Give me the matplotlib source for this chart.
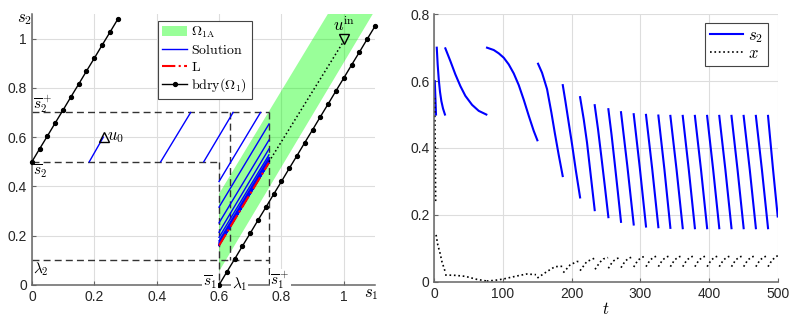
import numpy as np
import matplotlib
matplotlib.use("Agg")
import matplotlib.pyplot as plt
from matplotlib.ticker import FormatStrFormatter

plt.rcParams['mathtext.fontset'] = 'cm'
plt.rcParams['font.family'] = ['Liberation Sans', 'DejaVu Sans']

nan = np.nan

# ---------------- left panel: (s1, s2) plane ----------------
bdry_left_s1 = [0, 0.025, 0.05, 0.075, 0.1, 0.125, 0.15, 0.175, 0.2, 0.225, 0.25, 0.275]
bdry_left_s2 = [0.5, 0.553, 0.605, 0.658, 0.71, 0.763, 0.815, 0.868, 0.92, 0.973, 1.025, 1.078]
bdry_right_s1 = [0.6, 0.625, 0.65, 0.675, 0.7, 0.725, 0.75, 0.775, 0.8, 0.825, 0.85,
                 0.875, 0.9, 0.925, 0.95, 0.975, 1.0, 1.025, 1.05, 1.075, 1.1]
bdry_right_s2 = [0, 0.053, 0.105, 0.158, 0.21, 0.263, 0.315, 0.368, 0.42, 0.473, 0.525,
                 0.578, 0.63, 0.683, 0.735, 0.788, 0.84, 0.893, 0.945, 0.998, 1.05]

omega1a_s1 = [0.6, 0.6, 0.949, 1.093]
omega1a_s2 = [0.055, 0.37, 1.1, 1.1]

sol_s1 = [0.229, 0.184, nan, 0.509, 0.413, nan, 0.645, 0.551, nan, 0.733, 0.6, nan,
          0.76, 0.6, nan, 0.76, 0.6, nan, 0.76, 0.6, nan, 0.76, 0.6, nan, 0.76, 0.6, nan,
          0.76, 0.6, nan, 0.76, 0.6, nan, 0.76, 0.6, nan, 0.76, 0.6, nan, 0.76, 0.6]
sol_s2 = [0.6, 0.5, nan, 0.7, 0.5, nan, 0.7, 0.5, nan, 0.7, 0.42, nan,
          0.653, 0.316, nan, 0.588, 0.252, nan, 0.552, 0.214, nan, 0.528, 0.193, nan, 0.516, 0.179, nan,
          0.507, 0.171, nan, 0.501, 0.165, nan, 0.499, 0.163, nan, 0.497, 0.161, nan, 0.496, 0.16]

L_s1 = [0.6, 0.76]
L_s2 = [0.16, 0.496]

uin_s1 = [0.76, 1.0]
uin_s2 = [0.5, 0.99]
u0 = (0.23, 0.6)
uin = (1.0, 1.0)

s1_bar, lam1, s1_plus = 0.6, 0.635, 0.76
s2_bar, lam2, s2_plus = 0.5, 0.1, 0.7

# ---------------- right panel: time series ----------------
t_s2 = [0.6, 1.5, 2.4, nan,
        3.5, 4.8, 6.4, 8.2, 10.2, 12.6, 15.4, nan,
        16.0, 23.3, 30.6, 37.9, 45.1, 54.9, 64.6, 75.7, nan,
        76.7, 86.5, 93.8, 101, 108.3, 115.6, 122.9, 130.2, 137.5, 144.7, 150, nan,
        151, 156.8, 164.1, 170.4, 175.3, 181, 186.9, nan,
        187, 190.8, 195.6, 200.5, 206, 212.2, nan,
        212.2, 217.5, 222.3, 227.8, 233.5, nan,
        233.5, 238.4, 243.4, 248.4, 253.4, nan,
        253.4, 258, 262.6, 267.2, 271.8, nan,
        271.8, 281, 290.3, nan,
        290.3, 299.2, 308.2, nan,
        308.2, 317.2, 326.2, nan,
        326.2, 335, 343.7, nan,
        343.7, 352.7, 361.7, nan,
        361.7, 370.5, 379.4, nan,
        379.4, 388.3, 397.2, nan,
        397.2, 406, 414.9, nan,
        414.9, 423.8, 432.7, nan,
        432.7, 441.5, 450.4, nan,
        450.4, 459.3, 468.2, nan,
        468.2, 477, 485.9, nan,
        485.9, 493, 500]
s2 = [0.6, 0.55, 0.5, nan,
      0.7, 0.65, 0.605, 0.568, 0.54, 0.518, 0.5, nan,
      0.698, 0.66, 0.62, 0.585, 0.556, 0.529, 0.511, 0.5, nan,
      0.7, 0.693, 0.683, 0.67, 0.65, 0.623, 0.588, 0.544, 0.496, 0.451, 0.423, nan,
      0.652, 0.625, 0.576, 0.506, 0.446, 0.38, 0.316, nan,
      0.588, 0.54, 0.476, 0.411, 0.333, 0.252, nan,
      0.552, 0.486, 0.416, 0.317, 0.214, nan,
      0.528, 0.455, 0.37, 0.283, 0.193, nan,
      0.516, 0.44, 0.355, 0.268, 0.179, nan,
      0.507, 0.346, 0.171, nan,
      0.501, 0.34, 0.165, nan,
      0.499, 0.338, 0.163, nan,
      0.497, 0.336, 0.161, nan,
      0.496, 0.335, 0.16, nan,
      0.496, 0.335, 0.16, nan,
      0.496, 0.335, 0.16, nan,
      0.496, 0.335, 0.16, nan,
      0.496, 0.335, 0.16, nan,
      0.496, 0.335, 0.16, nan,
      0.496, 0.335, 0.16, nan,
      0.496, 0.335, 0.16, nan,
      0.496, 0.34, 0.195]

t_x = [0.5, 1.2, 1.9, nan,
       2.5, 5.0, 8.3, 11.0, 15.4, nan,
       15.6, 30, 45, 61.7, 76.3, nan,
       76.3, 88, 100.5, 120, 134.5, 148, nan,
       150, 163.7, 175.7, 186.5, nan,
       187.8, 197.6, 207.3, 212, nan,
       212.2, 221.9, 233, nan,
       234, 241, 246, 253, nan,
       253.4, 259.5, 265.5, 271.8, nan,
       271.8, 278, 284, 290.3, nan,
       290.3, 296.3, 302.3, 308.2, nan,
       308.2, 314.2, 320.2, 326.2, nan,
       326.2, 332.2, 338.2, 343.7, nan,
       343.7, 349.7, 355.7, 361.7, nan,
       361.7, 367.7, 373.7, 379.4, nan,
       379.4, 385.4, 391.4, 397.2, nan,
       397.2, 403.2, 409.2, 414.9, nan,
       414.9, 420.9, 426.9, 432.7, nan,
       432.7, 438.7, 444.7, 450.4, nan,
       450.4, 456.4, 462.4, 468.2, nan,
       468.2, 474.2, 480.2, 485.9, nan,
       485.9, 491.9, 497.9, 500]
x = [0.55, 0.40, 0.234, nan,
     0.14, 0.11, 0.085, 0.06, 0.032, nan,
     0.02, 0.019, 0.016, 0.007, 0.002, nan,
     0.002, 0.004, 0.008, 0.017, 0.023, 0.021, nan,
     0.011, 0.03, 0.045, 0.046, nan,
     0.027, 0.05, 0.06, 0.061, nan,
     0.033, 0.06, 0.07, nan,
     0.037, 0.058, 0.068, 0.072, nan,
     0.040, 0.060, 0.069, 0.073, nan,
     0.042, 0.062, 0.071, 0.075, nan,
     0.044, 0.064, 0.073, 0.077, nan,
     0.045, 0.065, 0.074, 0.078, nan,
     0.045, 0.065, 0.074, 0.078, nan,
     0.045, 0.065, 0.074, 0.078, nan,
     0.045, 0.065, 0.074, 0.078, nan,
     0.045, 0.065, 0.074, 0.078, nan,
     0.045, 0.065, 0.074, 0.078, nan,
     0.045, 0.065, 0.074, 0.078, nan,
     0.045, 0.065, 0.074, 0.078, nan,
     0.045, 0.065, 0.074, 0.078, nan,
     0.045, 0.065, 0.074, 0.078, nan,
     0.045, 0.065, 0.075, 0.078]


def style(ax):
    for sp in ['top', 'right']:
        ax.spines[sp].set_visible(False)
    for sp in ['left', 'bottom']:
        ax.spines[sp].set_color('#666666')
        ax.spines[sp].set_linewidth(1.1)
    ax.tick_params(direction='in', length=3, color='#666666', labelcolor='#262626', labelsize=10)
    ax.grid(True, color='#dddddd', lw=0.8)
    ax.set_axisbelow(True)
    ax.xaxis.set_major_formatter(FormatStrFormatter('%g'))
    ax.yaxis.set_major_formatter(FormatStrFormatter('%g'))


fig = plt.figure(figsize=(7.97, 3.24), dpi=100)
ax1 = fig.add_axes([0.040, 0.1204, 0.4305, 0.8366])
ax2 = fig.add_axes([0.545, 0.1306, 0.4308, 0.8254])

# ---- left
style(ax1)
ax1.set_xlim(0, 1.1)
ax1.set_ylim(0, 1.1)
ax1.set_xticks([0, 0.2, 0.4, 0.6, 0.8, 1])
ax1.set_yticks([0, 0.2, 0.4, 0.6, 0.8, 1])

h_fill = ax1.fill(omega1a_s1, omega1a_s2, color=(0, 1, 0), alpha=0.4, lw=0, zorder=1)[0]

dash = dict(color='#333333', lw=1, ls=(0, (5, 3)), zorder=2)
ax1.plot([0, s1_plus], [s2_plus, s2_plus], **dash)
ax1.plot([0, s1_bar], [s2_bar, s2_bar], **dash)
ax1.plot([0, s1_plus], [lam2, lam2], **dash)
ax1.plot([s1_bar, s1_bar], [s2_bar, 0], **dash)
ax1.plot([s1_plus, s1_plus], [s2_plus, 0], **dash)
ax1.plot([lam1, lam1], [s2_plus, lam2], **dash)

h_sol, = ax1.plot(sol_s1, sol_s2, color='blue', lw=1, zorder=3)
h_L, = ax1.plot(L_s1, L_s2, color='red', lw=1.5, ls='-.', zorder=4)
ax1.plot(uin_s1, uin_s2, color='black', lw=1.1, ls=':', zorder=3)
h_b, = ax1.plot(bdry_left_s1, bdry_left_s2, color='black', lw=1, marker='o', ms=2.8, clip_on=False, zorder=5)
ax1.plot(bdry_right_s1, bdry_right_s2, color='black', lw=1, marker='o', ms=2.8, clip_on=False, zorder=5)

ax1.plot(*u0, marker='^', ms=7, mfc='none', mec='black', mew=1, zorder=6)
ax1.plot(*uin, marker='v', ms=7, mfc='none', mec='black', mew=1, zorder=6)
ax1.text(u0[0] + 0.012, u0[1], r'$u_0$', fontsize=12, va='center', ha='left')
ax1.text(uin[0], uin[1] + 0.02, r'$u^{\mathrm{in}}$', fontsize=12, va='bottom', ha='center')

ax1.text(-0.022, 1.077, r'$s_2$', fontsize=12, ha='center', va='center', clip_on=False)
ax1.text(1.087, -0.037, r'$s_1$', fontsize=12, ha='center', va='center', clip_on=False)
ax1.text(0.002, 0.735, r'$\overline{s}_2^+$', fontsize=11, ha='left', va='center')
ax1.text(0.002, 0.463, r'$\overline{s}_2$', fontsize=11, ha='left', va='center')
ax1.text(0.004, 0.065, r'$\lambda_2$', fontsize=11, ha='left', va='center')
wb = dict(fc='white', ec='none', pad=0.6)
ax1.text(0.594, 0.012, r'$\overline{s}_1$', fontsize=11, ha='right', va='center', bbox=wb, zorder=7, clip_on=False)
ax1.text(0.640, 0.004, r'$\lambda_1$', fontsize=11, ha='left', va='center', bbox=wb, zorder=7, clip_on=False)
ax1.text(0.765, 0.02, r'$\overline{s}_1^+$', fontsize=11, ha='left', va='center', bbox=wb, zorder=7, clip_on=False)

leg1 = ax1.legend([h_fill, h_sol, h_L, h_b],
                  [r'$\Omega_{1\mathrm{A}}$', r'$\mathrm{Solution}$', r'$\mathrm{L}$', r'$\mathrm{bdry}(\Omega_1)$'],
                  loc='upper left', bbox_to_anchor=(0.368, 0.975), fontsize=10, handlelength=1.8,
                  handletextpad=0.3, borderpad=0.3, labelspacing=0.2, borderaxespad=0,
                  fancybox=False, framealpha=1, edgecolor='#444444')
leg1.get_frame().set_linewidth(0.8)

# ---- right
style(ax2)
ax2.set_xlim(0, 500)
ax2.set_ylim(0, 0.8)
ax2.set_xticks([0, 100, 200, 300, 400, 500])
ax2.set_yticks([0, 0.2, 0.4, 0.6, 0.8])
h_s2, = ax2.plot(t_s2, s2, color='blue', lw=1.5)
h_x, = ax2.plot(t_x, x, color='black', lw=1.2, ls=':')
ax2.set_xlabel(r'$t$', fontsize=12, labelpad=0)
leg2 = ax2.legend([h_s2, h_x], [r'$s_2$', r'$x$'], loc='upper right', bbox_to_anchor=(0.972, 0.968),
                  fontsize=12, handlelength=2.0, handletextpad=0.3, borderpad=0.3, labelspacing=0.1,
                  borderaxespad=0, fancybox=False, framealpha=1, edgecolor='#444444')
leg2.get_frame().set_linewidth(0.8)

fig.savefig('out.png', dpi=100)
